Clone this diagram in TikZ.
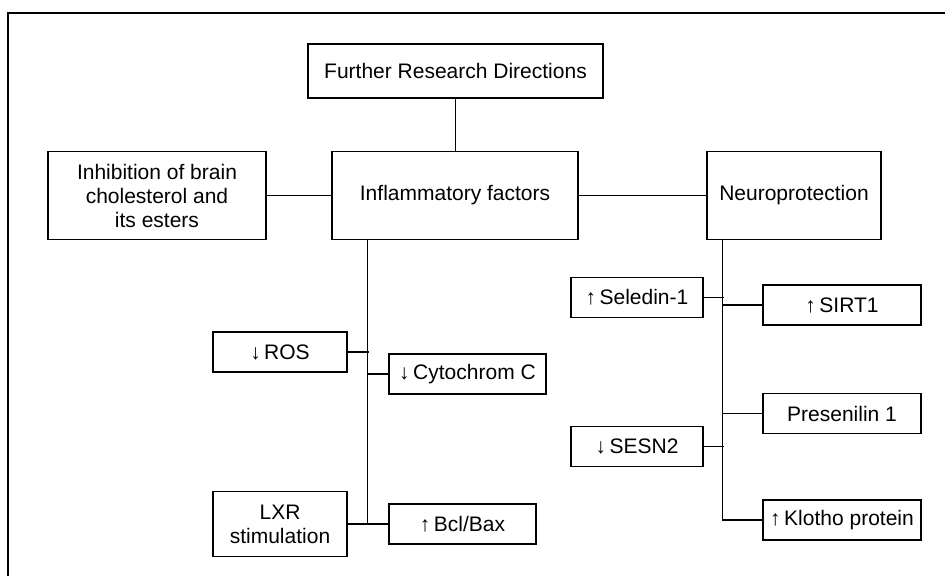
\documentclass[tikz,border=0pt]{standalone}
\usepackage{fontspec}
\setmainfont{Liberation Sans}
\usetikzlibrary{positioning}

\begin{document}
\begin{tikzpicture}[x=0.5pt, y=-0.5pt, line width=0.6pt,
    box/.style={draw, inner sep=1pt, align=center, minimum height=20pt, font=\fontsize{10.5}{12}\selectfont}]
    \useasboundingbox (0,0) rectangle (945,576);
    \draw[line width=0.8pt] (8,576) -- (8,13) -- (945,13);

    \node[box, minimum width=147.5pt, minimum height=27pt] (frd) at (455.5,71) {Further Research Directions};
    \node[box, minimum width=109pt, minimum height=44pt] (chol) at (157,195.5) {Inhibition of brain\\cholesterol and\\its esters};
    \node[box, minimum width=123pt, minimum height=44pt] (infl) at (455,195.5) {Inflammatory factors};
    \node[box, minimum width=87pt, minimum height=44pt] (neuro) at (794,195.5) {Neuroprotection};

    \node[box, minimum width=67pt] (ros) at (280,352) {↓\,ROS};
    \node[box, minimum width=78.5pt] (cyto) at (467.5,374) {↓\,Cytochrom C};
    \node[box, minimum width=67pt, minimum height=32.5pt] (lxr) at (280,524) {LXR\\stimulation};
    \node[box, minimum width=73.5pt] (bcl) at (462.5,524) {↑\,Bcl/Bax};

    \node[box, minimum width=66pt] (sel) at (637,297.5) {↑\,Seledin-1};
    \node[box, minimum width=66pt] (sesn) at (637,446.5) {↓\,SESN2};
    \node[box, minimum width=79pt] (sirt) at (842,305) {↑\,SIRT1};
    \node[box, minimum width=79pt] (pres) at (842,413.5) {Presenilin 1};
    \node[box, minimum width=79pt] (klotho) at (842,520) {↑\,Klotho protein};

    \coordinate (ltop) at ([xshift=18pt]infl.south west);
    \coordinate (rtop) at ([xshift=8pt]neuro.south west);

    \draw (frd.south) -- (frd.south |- infl.north);
    \draw (chol) -- (infl);
    \draw (infl) -- (neuro);

    \draw (ltop) -- (ltop |- lxr.east);
    \draw (lxr) -- (bcl);
    \draw (ros.east) -- ([xshift=1pt]ros.east -| ltop);
    \draw (cyto.west) -- (cyto.west -| ltop);

    \draw (rtop) |- (klotho.west);
    \draw (sel.east) -- ([xshift=1pt]sel.east -| rtop);
    \draw (sirt.west) -- (sirt.west -| rtop);
    \draw (pres.west) -- (pres.west -| rtop);
    \draw (sesn.east) -- ([xshift=1pt]sesn.east -| rtop);
\end{tikzpicture}
\end{document}
